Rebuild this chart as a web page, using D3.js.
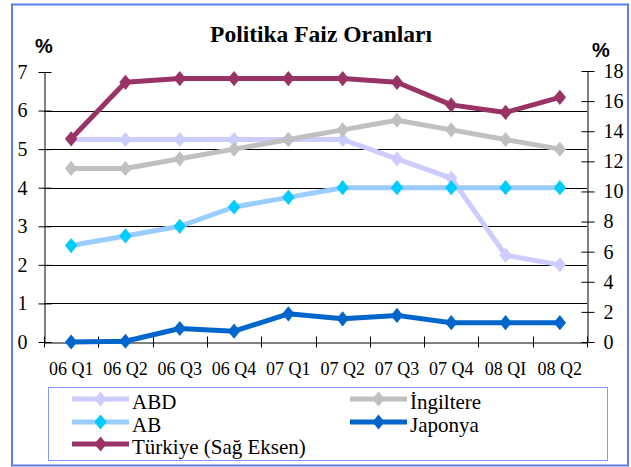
<!DOCTYPE html>
<html><head><meta charset="utf-8">
<script src="https://cdn.jsdelivr.net/npm/d3@7"></script>
<style>
html,body{margin:0;padding:0;background:#fff;}
svg{display:block;}
</style></head>
<body>
<svg id="chart" width="631" height="467"></svg>
<script>
const categories = ["06 Q1","06 Q2","06 Q3","06 Q4","07 Q1","07 Q2","07 Q3","07 Q4","08 QI","08 Q2"];
const abd       = [5.25,5.25,5.25,5.25,5.25,5.25,4.75,4.25,2.25,2.0];
const ingiltere = [4.5,4.5,4.75,5.0,5.25,5.5,5.75,5.5,5.25,5.0];
const ab        = [2.5,2.75,3.0,3.5,3.75,4.0,4.0,4.0,4.0,4.0];
const japonya   = [0,0.02,0.35,0.28,0.73,0.6,0.69,0.5,0.5,0.5];
const turkiye   = [13.5,17.25,17.5,17.5,17.5,17.5,17.25,15.75,15.25,16.25];
const leftTicks  = [0,1,2,3,4,5,6,7];
const rightTicks = [0,2,4,6,8,10,12,14,16,18];
const title = "Politika Faiz Oranları";

const series = [
  {name:"ABD", values:abd, axis:"L", line:"#CCCCFF", marker:"#CCCCFF"},
  {name:"İngiltere", values:ingiltere, axis:"L", line:"#C0C0C0", marker:"#C0C0C0"},
  {name:"AB", values:ab, axis:"L", line:"#99CCFF", marker:"#00CCFF"},
  {name:"Japonya", values:japonya, axis:"L", line:"#0066CC", marker:"#0066CC"},
  {name:"Türkiye (Sağ Eksen)", values:turkiye, axis:"R", line:"#993366", marker:"#993366"}
];

const SERIF = "Liberation Serif";
const SANS = "Liberation Sans";
const svg = d3.select("#chart");

// outer frame
svg.append("rect").attr("x",12).attr("y",4.5).attr("width",616).attr("height",461)
  .attr("fill","#fff").attr("stroke","#5b7cf0").attr("stroke-width",2);

const x = d3.scaleBand().domain(categories).range([44,587]);
const yL = d3.scaleLinear().domain([0,7]).range([342,72]);
const yR = d3.scaleLinear().domain([0,18]).range([342,71]);

// gridlines
svg.append("g").selectAll("line").data(leftTicks.filter(d=>d>0&&d<7)).join("line")
  .attr("x1",44).attr("x2",587).attr("y1",d=>Math.round(yL(d))+0.5).attr("y2",d=>Math.round(yL(d))+0.5)
  .attr("stroke","#000").attr("stroke-width",1);

// left axis
const gL = svg.append("g").attr("transform","translate(44.5,0)")
  .call(d3.axisLeft(yL).tickValues(leftTicks).tickFormat(d3.format("d")).tickSizeInner(6).tickSizeOuter(0).tickPadding(11))
  .attr("font-family",SERIF).attr("font-size",20);
gL.selectAll(".tick line").attr("x1",7).attr("x2",-6);
gL.select(".domain").attr("stroke","#000");
gL.selectAll("text").attr("fill","#000");

// right axis
const gR = svg.append("g").attr("transform","translate(587.5,0)")
  .call(d3.axisRight(yR).tickValues(rightTicks).tickFormat(d3.format("d")).tickSizeInner(7).tickSizeOuter(0).tickPadding(9))
  .attr("font-family",SERIF).attr("font-size",20);
gR.selectAll(".tick line").attr("x1",-6).attr("x2",7);
gR.select(".domain").attr("stroke","#000");
gR.selectAll("text").attr("fill","#000");

// bottom axis
const gB = svg.append("g").attr("transform","translate(0,342.5)")
  .call(d3.axisBottom(x).tickSize(0).tickPadding(20))
  .attr("font-family",SERIF).attr("font-size",18);
gB.select(".domain").attr("stroke","#000");
gB.selectAll("text").attr("fill","#000");
const bounds = categories.map(c=>x(c)).concat([x.range()[1]]);
gB.append("g").selectAll("line").data(bounds).join("line")
  .attr("x1",d=>Math.round(d)+0.5).attr("x2",d=>Math.round(d)+0.5).attr("y1",-6).attr("y2",5)
  .attr("stroke","#000");

// series
const cx = c => x(c)+x.bandwidth()/2;
const diamondType = { draw(ctx, size){ const w=6.2, h=7.6; ctx.moveTo(0,-h); ctx.lineTo(w,0); ctx.lineTo(0,h); ctx.lineTo(-w,0); ctx.closePath(); } };
const diamond = d3.symbol(diamondType, 1);
series.forEach(s=>{
  const ys = s.axis==="L" ? yL : yR;
  const pts = categories.map((c,i)=>[cx(c), ys(s.values[i])]);
  svg.append("path").attr("d", d3.line()(pts)).attr("fill","none")
    .attr("stroke",s.line).attr("stroke-width",5).attr("stroke-linejoin","round");
  svg.append("g").selectAll("path").data(pts).join("path")
    .attr("d",diamond).attr("transform",d=>`translate(${d[0]},${d[1]})`)
    .attr("fill",s.marker);
});

// title and unit labels
svg.append("text").attr("x",321).attr("y",42).attr("text-anchor","middle")
  .attr("font-family",SERIF).attr("font-weight","bold").attr("font-size",23.5).text(title);
svg.append("text").attr("x",44).attr("y",53).attr("text-anchor","middle")
  .attr("font-family",SANS).attr("font-weight","bold").attr("font-size",20).text("%");
svg.append("text").attr("x",601).attr("y",57).attr("text-anchor","middle")
  .attr("font-family",SANS).attr("font-weight","bold").attr("font-size",20).text("%");

// legend
svg.append("rect").attr("x",48.5).attr("y",387.5).attr("width",559).attr("height",73)
  .attr("fill","#fff").attr("stroke","#7f9cff").attr("stroke-width",1);
const legPos = [[72,399],[350,399],[72,422],[350,422],[72,444]];
series.forEach((s,k)=>{
  const [lx,ly] = legPos[k];
  const g = svg.append("g");
  g.append("line").attr("x1",lx).attr("x2",lx+57).attr("y1",ly).attr("y2",ly)
    .attr("stroke",s.line).attr("stroke-width",5);
  g.append("path").attr("d",diamond).attr("transform",`translate(${lx+28.5},${ly})`).attr("fill",s.marker);
  g.append("text").attr("x",lx+60).attr("y",ly+10).attr("font-family",SERIF).attr("font-size",21).text(s.name);
});
</script>
</body></html>
